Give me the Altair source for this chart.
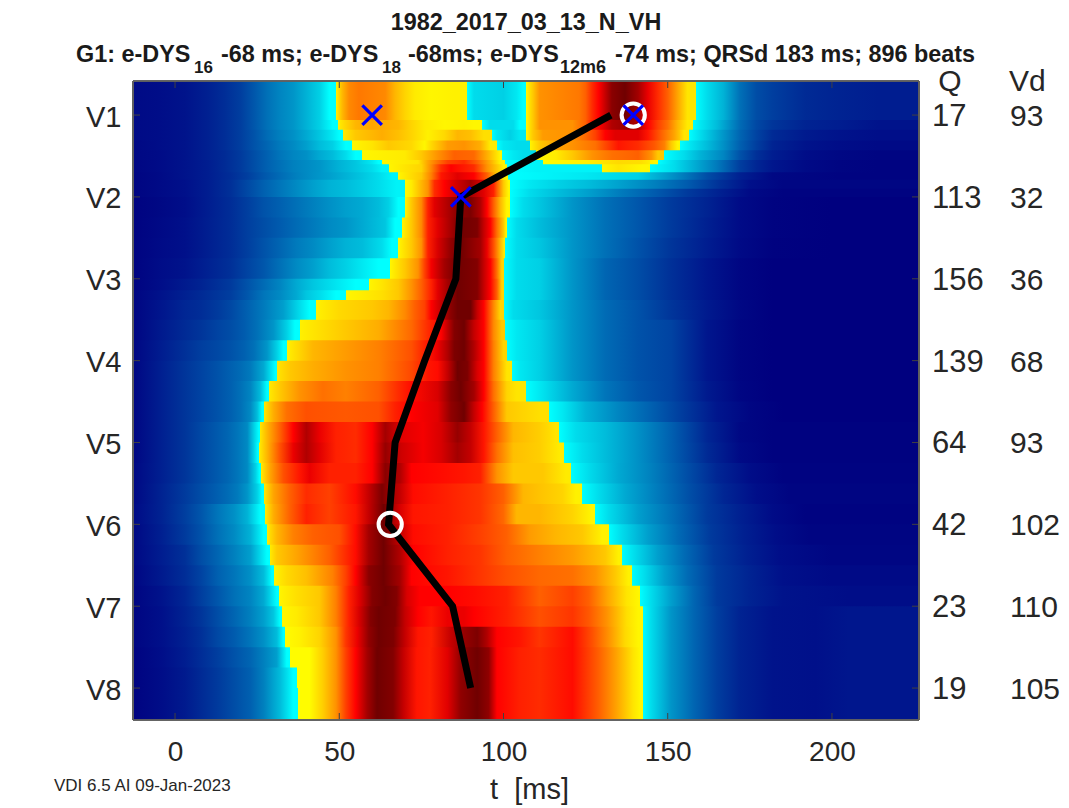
import altair as alt
import pandas as pd

FONT = "Liberation Sans"
INK = "#262626"
X_MIN, X_MAX = -12.8, 226.5
Y_MIN, Y_MAX = 0.584, 8.39

LEADS = [1, 2, 3, 4, 5, 6, 7, 8]
Q_VALUES = [17, 113, 156, 139, 64, 42, 23, 19]
VD_VALUES = [93, 32, 36, 68, 93, 102, 110, 105]
X_TICKS = [0, 50, 100, 150, 200]
PATH_T = [132.7, 87, 85.5, 76, 67, 65, 84.5, 90]
CIRCLE_T = [139.5, 65.5]
CIRCLE_LEAD = [1, 6]
CROSS_T = [60, 87, 139.5]
CROSS_LEAD = [1, 2, 1]

COLOR_STOPS = [0, 10, 20, 30, 40, 46, 50, 50.5, 60, 68, 76, 82, 90, 100]
COLOR_RANGE = ["#00007f", "#00108a", "#003098", "#0060b0", "#0095c8", "#00d0e5", "#00ffff",
               "#ffff00", "#ffc800", "#ff8000", "#ff4000", "#ff0000", "#b00000", "#700000"]

# lead-unit edges of the heat-map rows
ROW_EDGES = [0.584, 1.06, 1.18, 1.31, 1.43, 1.55, 1.60, 1.70, 1.79, 1.90, 2.0, 2.25, 2.5, 2.75, 3.0, 3.14, 3.26,
             3.5, 3.75, 4, 4.25, 4.5, 4.75, 5, 5.25, 5.5, 5.75, 6, 6.25, 6.5, 6.75, 7, 7.25, 7.5, 7.75, 8, 8.39]

# one list per row: position (ms), level, position, level, ...  Levels above 50 are the warm lobes.
RUNS = [
 [-13,6,-5,8,3,11,10,15,15,19,20,23,24,28,28,33,32,37,36,40,40,43,44,46,47,50,49,53,51,62,53,67,56,69,64,67,67,62,70,58,73,54,78,52,85,53,89,50,91,47,100,46,104,48,106,50,107,52,109,60,111,66,123,69,125,72,127,78,129,82,131,88,133,96,137,100,141,92,144,84,147,78,150,72,153,64,156,55,158.6,50,162,47,167,43,172,33,177,26,182,23,192,18,202,16,214,14],
 [-13,6,-5,8,3,11,10,15,15,19,20,23,24,28,28,33,32,37,36,40,40,43,44,46,48,50,49.5,53,52,58,55,62,60,64,68,62,72,58,76,54,82,52,88,53,91,52,93.5,50,96,47,103,47,105,50,107,52,109,60,111,66,121,66,125,72,127,80,130,84,133,90,138,94,141,90,144,82,147,76,150,70,153,62,156,54,157.7,50,160,48,165,44,172,32,177,25,182,21,192,16,202,14,214,11],
 [-13,6,-5,8,3,11,10,15,15,19,20,23,24,27,28,32,32,36,36,39,40,42,44,45,48,48,50,50,51,54,55,60,63,63,68,61,72,58,77,53,82,57,86,62,90,61,94,56,96.5,50,98,48,102,46,105,48,107,52,109,60,112,65,121,66,125,71,128,76,131,82,134,85,141,85,144,80,148,72,152,64,155,55,156.5,50,160,47,165,42,172,31,177,24,182,18,192,13,202,11,214,9],
 [-13,5,-5,8,3,11,10,15,15,19,20,23,24,27,28,31,32,35,36,38,40,41,44,44,48,46,52,50,54,52,60,55,65,60,72,57,76,52,78,57,83,65,88,66,93,63,96,54,98,50,100,48,104,47,108,52,111,60,116,64,121,66,128,70,131,75,135,80,141,78,146,73,149,68,151,60,153,52,153.7,50,158,47,162,44,167,39,172,30,177,23,182,16,192,11,202,8,214,6],
 [-13,5,-5,7,3,11,10,15,15,18,20,22,24,26,28,30,32,34,36,37,40,39,44,42,48,44,52,47,55,50,57,52,70,54,75,60,80,66,85,72,91,71,96,61,99,52,99.5,50,103,48,106,47,110,52,116,54,121,60,127,66,133,70,141,72,145,66,147,60,149,50,155,47,160,43,167,37,172,27,177,20,182,14,192,8,202,5,214,3],
 [-13,4,-5,7,3,11,10,14,15,18,20,22,24,26,28,30,32,33,36,36,40,38,44,40,50,43,55,45,60,48,62,50,63,52,74,55,77,64,80,70,83,76,88,78,92,72,96,63,99,53,100.5,50,105,49,112,51,125,53,135,57,142,56,146,52,147,50,152,47,160,41,165,35,172,23,177,17,182,12,192,6,202,3,214,2],
 [-13,4,-5,7,3,11,10,14,15,18,20,22,24,26,28,30,32,33,36,36,40,38,44,40,50,43,55,45,60,47,63,49,65,52,75,58,78,67,81,78,84,82,91,78,95,66,98,60,100,53,101,50,110,49,130,52,135,55,142,52,144.7,50,152,47,160,41,165,35,172,23,177,17,182,12,192,6,202,3,214,2],
 [-13,3,-5,6,3,11,10,14,17,19,22,23,27,28,32,32,37,36,42,39,47,41,52,43,57,45,62,47,66,49,68,52,75,60,78,68,81,80,86,85,91,82,95,72,98,60,101,52,101.5,50,125,48,141,46,151.6,39,162,26,172,15,182,5,202,2],
 [-13,3,-5,6,3,10,10,14,17,20,22,25,27,30,32,34,37,38,42,41,47,43,52,44,57,45.5,62,47,67.5,49,70,51,72,54,74,60,77,66,79,78,82,82,85,86,90,92,94,85,97,79,98,72,100,60,101.5,52,102,50,108,48,117,46,126,44,136,41,146,36,156,29,166,20,175,10,185,4],
 [-13,3,-5,6,3,10,10,14,17,20,22,25,27,30,32,34,37,38,42,41,47,43,52,44,57,45.5,62,47,67.5,49,70,51,72,54,74,60,77,66,79,78,82,82,85,86,90,92,94,85,97,79,98,72,100,60,101.5,52,102,50,108,47,117,44,126,41,136,35,146,29,156,22,166,15,175,6,185,2],
 [-13,2,-5,5,3,9,10,14,17,19,22,23,27,27,32,30,37,33,42,36,47,39,52,41,57,42,62,44,65,46,68,50,70,52,72,60,75,67,77,79,79,85,83,90,86,96,90,98,93,90,95,82,97,72,99,62,101,52,102,50,106,47,111,45,121,40,131,33,141,28,151,22,162,16,172,7,182,2,200,0],
 [-13,2,-4,6,3,10,8,13,17,19,22,23,27,26,32,29,37,32,42,35,47,38,52,40,57,42,64,45,67,50,69,52,72,60,75,67,77,79,80,85,84,92,87,100,92,98,94,88,96,82,98,70,100,60,100.8,52,101,50,104,47,111,44,121,40,131,33,141,28,151,22,162,15,172,7,182,2,200,0],
 [-13,2,-4,7,3,10,8,13,17,19,22,23,27,27,32,31,37,35,42,38,47,41,52,43,57,44,63,47,66,50,68,52,72,60,75,66,77,79,80,86,84,95,87,100,93,92,95,84,97,74,99,62,100.2,54,100.5,50,104,47,111,45,121,40,131,33,141,27,151,21,162,14,172,6,182,1,200,0],
 [-13,2,-4,8,3,11,8,14,17,20,22,24,27,28,32,33,37,38,42,41,47,44,52,46,57,48,62,50,65.5,52,70,60,74,66,76,76,78,83,82,92,86,100,92,97,94,88,96,82,98,70,99.5,58,100,50,104,47,111,46,121,40,131,31,141,26,151,20,162,12,172,4,182,0],
 [-13,2,-4,9,3,13,8,16,17,22,22,27,27,32,32,37,37,42,42,45,47,47,55,50,59,52,63,55,68,60,72,66,75,72,78,79,80,85,83,92,86,100,92,97,94,88,96,82,98,72,99.5,58,100,50,104,47,111,46,121,40,131,31,141,26,151,20,162,12,172,4,182,0],
 [-13,3,-4,11,3,15,8,18,17,23,22,28,27,34,32,38,37,42,40,45,44,47,49,50,52,52,58,54,63,56,68,60,72,66,75,72,78,79,80,85,83,92,86,100,92,97,94,88,96,82,98,72,99.5,58,100,50,104,47,111,46,121,40,131,31,141,26,151,20,162,12,172,4,182,0],
 [-13,3,-4,12,3,17,8,19,13,22,17,25,22,30,27,35,33,41,38,47,41,50,43,53,50,57,60,60,65,62,70,67,73,72,76,76,78,82,81,88,84,96,86,100,90,100,92,88,94,82,97,67,99,58,100,50,103,47,111,45,121,40,131,32,141,27,151,21,162,13,172,5,182,0],
 [-13,3,-4,13,3,18,8,21,13,24,17,26,21,29,25,33,30,40,34,46,36.5,50,38,53,42,55,52,60,62,63,72,71,77,78,81,82,85,97,88,100,91,88,94,82,97,67,99.5,60,100.5,50,104,48,111,46,121,40,131,32,141,27,151,24,162,12,172,3,182,0],
 [-13,4,-4,14,3,20,8,23,13,25,17,27,21,30,24,33,28,40,31,46,33,50,34,53,38,58,42,62,52,65,62,68,72,74,77,80,80,84,83,90,85,98,88,100,91,90,94,82,97,68,100,58,101,50,104,48,111,46,121,40,131,32,141,27,151,24,162,12,172,3,182,0],
 [-13,4,-4,15,3,21,8,24,13,27,17,30,20,32,23,35,27,42,29,47,30.5,50,31,55,35,60,42,63,52,66,62,68,72,75,77,80,80,81,83,88,86,100,89,98,92,86,94,82,97,68,101,55,102.5,50,105,48,111,46,121,40,131,32,141,27,151,24,162,12,172,3,182,0],
 [-13,4,-4,15,3,21,8,24,13,27,17,30,20,33,23,37,26,44,28,50,28.5,54,32,60,38,66,45,70,52,68,62,72,68,78,72,81,80,86,84,96,87,100,91,92,94,82,97,70,101,58,104,55,107,50,111,48,121,42,131,34,141,28,151,24,162,13,172,4,182,0],
 [-13,4,-4,15,3,21,8,24,13,27,17,30,20,33,23,38,25,44,26.5,50,27,54,30,63,34,70,40,74,52,73,62,74,67,79,72,82,80,85,84,95,88,100,91,88,93.5,82,97,72,101,60,106,58,111,56,114,50,118,48,125,43,135,37,145,30,155,22,165,12,175,4,185,0],
 [-13,4,-4,15,3,21,8,25,12,28,16,31,19,34,22,38,24,46,25.5,50,26,55,28,62,32,72,36,82,40,90,44,84,49,79,55,78,60,82,64,92,69,85,75.5,83,81,86,86,94,90,88,94,80,98,72,103,62,111,59,116,55,117,50,122,47,131,44,141,39,151,30,162,17,172,5,182,1],
 [-13,4,-4,15,3,21,8,25,12,28,16,31,19,34,22,38,24,46,25.2,50,25.7,54,28,62,32,74,36,84,40,90,44,85,49,79,55,78,60,82,64,94,69,87,75.5,83,81,86,86,92,90,88,94,80,98,70,103,61,111,59,117,54,118.5,50,124,47,131,44,141,39,151,30,162,18,172,6,182,1],
 [-13,5,-4,15,3,21,8,25,12,28,16,31,19,34,22,38,24.5,46,25.7,50,26.2,54,29,64,33,74,38,80,41,84,47,79,55,79,60,82,64,96,68.5,90,72,82,81,81,88,80,93,79,98,66,103,60,112,60,119,54,120.5,50,126,47,135,42,145,36,155,27,165,17,175,8,185,2],
 [-13,5,-4,16,3,22,8,26,12,29,16,32,19,35,22,40,25,46,26.5,50,27,54,30,64,35,72,40,78,47,76,55,81,59,88,63,98,68.5,88,72.5,81,83,79,93,77,100,72,106,62,113,60,118,58,122,53,124,50,129,47,137,42,147,35,157,26,167,17,177,9,187,3],
 [-13,6,-4,16,3,23,8,28,13,34,18,39,22,43,26,50,27.5,54,30,63,35,72,40,79,47,76,55,80,59,88,63.5,100,68.5,86,72.5,80,83,79,93,77,100,71,104,62,111,62,121,58,127,52,128,50,132,47,141,41,151,33,162,22,172,15,182,7,192,2],
 [-13,5,-4,15,3,22,8,27,13,33,18,38,23,43,27,50,28,54,31,62,36,68,42,72,50,74,55,81,59,92,63.5,100,68.5,88,72.5,81,83,79,93,76,101,72,108,65,116,62,124,60,130,53,132,50,136,47,144,41,153,32,163,22,173,15,183,8,193,3],
 [-13,5,-4,14,3,20,8,26,13,31,18,36,23,41,28,50,29,54,31,60,37,64,47,72,55,81,59,92,63.5,100,68.5,90,72.5,82,83,79,93,77,101,72,111,68,121,65,131,60,135,53,136,50,140,47,147,41,155,32,164,22,174,15,184,9,200,4],
 [-13,4,-4,13,3,19,8,24,13,30,18,34,23,39,27,44,29.5,50,30,52,34,57,40,61,48,68,52,76,55,82,59,96,63.5,100,68.5,92,72,82,83,80,93,77,101,74,111,71,121,70,128,66,134,60,138,53,139,50,143,47,149,41,156,32,165,22,175,16,185,10,200,6],
 [-13,3,-4,11,3,17,8,23,13,28,18,33,23,37,27,42,31,50,31.5,52,37,56,44,60,49,68,53,79,56,85,60,97,64,100,67.5,97,70.6,86,74.5,82,83,82,91,81,101,79,111,72,121,76,126,72,131.5,64,137.5,55,141,52,141.5,50,145,47,151,41,158,31,165,22,175,16,185,11,205,8],
 [-13,3,-4,10,3,16,8,21,13,26,18,31,23,36,27,41,30,45,32,50,32.5,52,37,54,44,60,49,68,53,79,56,86,59.5,97,62,100,67,98,70,88,74,82,78,80,83,84,88,84,91,82,101,79,111,74,121,77,126,73,131.5,66,137.5,56,141,52,142.4,50,145,47,151,40,158,31,165,23,172,16,182,11,195,10,205,12],
 [-13,3,-4,10,3,15,8,20,13,25,18,29,23,34,27,39,31,44,33,50,33.5,51,38,53,44,58,49,66,52,77,55.5,84,59,95,62,100,66.5,98,70,88,74,80,78,79,84,88,88,94,92,98,95,90,98,82,105,80,111,77,121,81,127,74,132,66,137,57,141,52,142.4,50,145,47,151,40,158,31,165,23,172,16,182,11,195,10,205,12],
 [-13,2,-4,9,3,14,8,19,13,23,18,27,23,31,27,36,31,41,34,50,35,51,41,51,45,59,49,66,52,76,55,82,58.5,92,61.5,100,66.4,97,69.5,88,73.6,80,77.6,79,83,85,87,95,92,100,95.5,95,98,82,105,79,111,78,121,81,129,72,134.5,64,139.5,55,141.5,52,142.4,50,145,47,151,40,158,31,165,23,172,16,182,11,195,10,205,12],
 [-13,2,-4,8,3,13,8,18,13,22,18,26,23,30,27,36,32,44,36,50,37,51,41,51,45,59,49,66,52,76,55,82,58.5,92,61.5,100,66.4,97,69.5,88,73.6,80,77.6,79,83,85,87,95,92,100,95.5,95,98,82,105,79,111,78,121,81,129,72,134.5,64,139.5,55,141.5,52,142.4,50,145,47,151,40,158,31,165,23,172,16,182,11,195,10,205,12],
 [-13,2,-4,8,3,13,8,18,13,22,18,26,23,30,27,36,32,44,36,50,37.5,51,41,51,45,59,49,66,52,76,55,82,58.5,92,61.5,100,66.4,97,69.5,88,73.6,80,77.6,79,83,85,87,95,92,100,95.5,95,98,82,105,79,111,78,121,81,129,72,134.5,64,139.5,55,141.5,52,142.4,50,145,47,151,40,158,31,165,23,172,16,182,11,195,10,205,12],
]


def level_color(v):
    """Colour of a level on the piecewise colour ramp given by COLOR_STOPS / COLOR_RANGE."""
    for lo, hi, c0, c1 in zip(COLOR_STOPS, COLOR_STOPS[1:], COLOR_RANGE, COLOR_RANGE[1:]):
        if v <= hi:
            f = max(0.0, (v - lo) / (hi - lo))
            rgb = [round(int(c0[k:k + 2], 16) + f * (int(c1[k:k + 2], 16) - int(c0[k:k + 2], 16))) for k in (1, 3, 5)]
            return "#%02x%02x%02x" % tuple(rgb)
    return COLOR_RANGE[-1]


def row_fill(run):
    """Horizontal gradient through a row's readings, with a hard edge where cool meets warm."""
    ts, vs = run[0::2], run[1::2]
    span = X_MAX - X_MIN
    stops = []
    for i, (t, v) in enumerate(zip(ts, vs)):
        off = min(1, max(0, (t - X_MIN) / span))
        if i and (vs[i - 1] > 50) != (v > 50):
            stops.append(alt.GradientStop(offset=off, color=level_color(vs[i - 1])))
        stops.append(alt.GradientStop(offset=off, color=level_color(v)))
    return alt.LinearGradient(gradient="linear", x1=0, x2=1, y1=0, y2=0, stops=stops)


PLOT_W, PLOT_H = 786, 639
sx = alt.Scale(domain=[X_MIN, X_MAX], nice=False, zero=False)
sy = alt.Scale(domain=[Y_MIN, Y_MAX], nice=False, zero=False, reverse=True)

x_axis = alt.Axis(values=X_TICKS, title=None, grid=False, domain=False, ticks=False, labelFont=FONT,
                  labelFontSize=28, labelColor=INK, labelPadding=18, format="d")
y_axis = alt.Axis(values=LEADS, title=None, grid=False, domain=False, ticks=False, labelFont=FONT,
                  labelFontSize=29, labelColor=INK, labelPadding=12, labelOffset=2, labelExpr="'V' + datum.value")
X = alt.X("t:Q", scale=sx, axis=x_axis)
Y = alt.Y("lead:Q", scale=sy, axis=y_axis)

heat = []
for i, run in enumerate(RUNS):
    row = pd.DataFrame({"t": [X_MIN], "t2": [X_MAX], "lead": [ROW_EDGES[i]],
                        "lead2": [min(ROW_EDGES[i + 1] + 0.015, Y_MAX)]})
    heat.append(alt.Chart(row).mark_rect(color=row_fill(run), clip=True).encode(
        x=X, x2="t2:Q", y=Y, y2="lead2:Q"))

path = alt.Chart(pd.DataFrame({"t": PATH_T, "lead": LEADS, "o": LEADS})).mark_line(
    color="black", strokeWidth=7, strokeJoin="miter", strokeCap="butt"
).encode(x=X, y=Y, order="o:Q")
circles = alt.Chart(pd.DataFrame({"t": CIRCLE_T, "lead": CIRCLE_LEAD})).mark_point(
    shape="circle", size=540, filled=False, color="white", strokeWidth=4, opacity=1
).encode(x=X, y=Y)
crosses = alt.Chart(pd.DataFrame({"t": CROSS_T, "lead": CROSS_LEAD})).mark_point(
    shape="M-1,-1L1,1M-1,1L1,-1", size=380, filled=False, color="#0000ff", strokeWidth=3.2, opacity=1
).encode(x=X, y=Y)

TICK = "#404040"
xt = pd.DataFrame({"t": X_TICKS})
lt = pd.DataFrame({"lead": LEADS})
ticks = [
    alt.Chart(xt).mark_rule(color=TICK, strokeWidth=1).encode(x=X, y=alt.value(PLOT_H), y2=alt.value(PLOT_H - 7)),
    alt.Chart(xt).mark_rule(color=TICK, strokeWidth=1).encode(x=X, y=alt.value(0), y2=alt.value(7)),
    alt.Chart(lt).mark_rule(color=TICK, strokeWidth=1).encode(y=Y, x=alt.value(0), x2=alt.value(7)),
    alt.Chart(lt).mark_rule(color=TICK, strokeWidth=1).encode(y=Y, x=alt.value(PLOT_W), x2=alt.value(PLOT_W - 7)),
]
EDGE = "#606060"
frame = [
    alt.Chart(xt).mark_rule(color=EDGE, strokeWidth=1.2).encode(x=alt.value(0), x2=alt.value(PLOT_W), y=alt.value(0)),
    alt.Chart(xt).mark_rule(color=EDGE, strokeWidth=1.2).encode(x=alt.value(0), x2=alt.value(PLOT_W), y=alt.value(PLOT_H)),
    alt.Chart(xt).mark_rule(color=EDGE, strokeWidth=1.2).encode(y=alt.value(0), y2=alt.value(PLOT_H), x=alt.value(0)),
    alt.Chart(xt).mark_rule(color=EDGE, strokeWidth=1.2).encode(y=alt.value(0), y2=alt.value(PLOT_H), x=alt.value(PLOT_W)),
]

q_text = alt.Chart(pd.DataFrame({"lead": LEADS, "q": Q_VALUES})).mark_text(
    font=FONT, fontSize=31, color=INK, align="left", baseline="middle", dy=2
).encode(x=alt.value(799), y=Y, text="q:Q")
vd_text = alt.Chart(pd.DataFrame({"lead": LEADS, "q": VD_VALUES})).mark_text(
    font=FONT, fontSize=30, color=INK, align="left", baseline="middle", dy=2
).encode(x=alt.value(877), y=Y, text="q:Q")


def label(txt, px, py, size, weight="normal", align="left", color=INK):
    return alt.Chart(pd.DataFrame({"s": [txt]})).mark_text(
        font=FONT, fontSize=size, fontWeight=weight, color=color, align=align, baseline="alphabetic"
    ).encode(x=alt.value(px - 133), y=alt.value(py - 81), text="s:N")


BOLD = "#1a1a1a"
texts = [
    label("1982_2017_03_13_N_VH", 526, 30, 23.4, "bold", "center", BOLD),
    label("G1: e-DYS", 76, 62, 23.4, "bold", color=BOLD),
    label("16", 194, 73, 17, "bold", color=BOLD),
    label("-68 ms; e-DYS", 221, 62, 23.4, "bold", color=BOLD),
    label("18", 382, 73, 17, "bold", color=BOLD),
    label("-68ms; e-DYS", 408, 62, 23.4, "bold", color=BOLD),
    label("12m6", 560, 73, 18, "bold", color=BOLD),
    label("-74 ms; QRSd 183 ms; 896 beats", 615, 62, 23.4, "bold", color=BOLD),
    label("Q", 950, 91, 30, align="center"),
    label("Vd", 1009, 91, 30),
    label("VDI 6.5 AI 09-Jan-2023", 54, 791, 17),
    label("t\u00a0\u00a0[ms]", 490, 799, 29),
]

chart = alt.layer(*heat, path, circles, crosses, *ticks, *frame, q_text, vd_text, *texts).properties(
    width=PLOT_W, height=PLOT_H,
    autosize=alt.AutoSizeParams(type="none"),
    padding={"left": 125, "top": 73, "right": 142, "bottom": 85},
    background="white",
).configure_view(stroke=None)

chart.save("out.html", embed_options={"renderer": "svg", "actions": False})
